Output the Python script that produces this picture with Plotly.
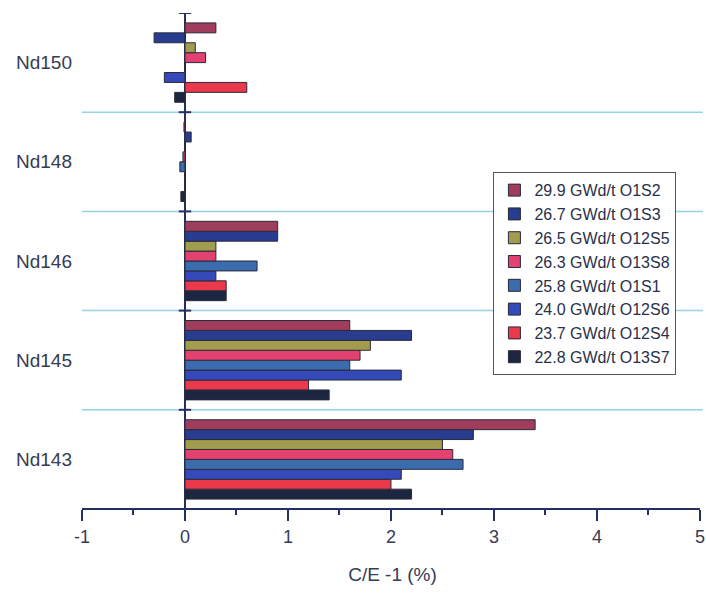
import plotly.graph_objects as go

isotopes = ["Nd143", "Nd145", "Nd146", "Nd148", "Nd150"]

series_names = [
    "29.9 GWd/t O1S2",
    "26.7 GWd/t O1S3",
    "26.5 GWd/t O12S5",
    "26.3 GWd/t O13S8",
    "25.8 GWd/t O1S1",
    "24.0 GWd/t O12S6",
    "23.7 GWd/t O12S4",
    "22.8 GWd/t O13S7",
]

# values per series, in isotope order Nd143, Nd145, Nd146, Nd148, Nd150
o1s2 = [3.4, 1.6, 0.9, -0.01, 0.3]
o1s3 = [2.8, 2.2, 0.9, 0.06, -0.3]
o12s5 = [2.5, 1.8, 0.3, 0.0, 0.1]
o13s8 = [2.6, 1.7, 0.3, -0.02, 0.2]
o1s1 = [2.7, 1.6, 0.7, -0.05, 0.0]
o12s6 = [2.1, 2.1, 0.3, 0.0, -0.2]
o12s4 = [2.0, 1.2, 0.4, 0.0, 0.6]
o13s7 = [2.2, 1.4, 0.4, -0.04, -0.1]

series_values = [o1s2, o1s3, o12s5, o13s8, o1s1, o12s6, o12s4, o13s7]

colors = ["#a03c5c", "#283c90", "#a29c4e", "#e3416f",
          "#3b6cae", "#3549b8", "#e9394b", "#1d2640"]

x_ticks = [-1, 0, 1, 2, 3, 4, 5]

text_color = "#363b55"
axis_color = "#263060"

fig = go.Figure()

# Add in reverse so the first series sits at the top of each group
for name, vals, col in reversed(list(zip(series_names, series_values, colors))):
    fig.add_trace(go.Bar(
        y=isotopes, x=vals, name=name, orientation="h",
        marker=dict(color=col, line=dict(color="#2a2a3a", width=1)),
    ))

# category separators and small ticks on the zero line
n = len(isotopes)
for k in range(n - 1):
    yb = k + 0.5
    fig.add_shape(type="line", xref="x", yref="y", x0=-1, x1=5.03, y0=yb, y1=yb,
                  line=dict(color="rgba(140,205,230,0.9)", width=1.5), layer="below")
for k in range(n):
    yb = k + 0.5
    fig.add_shape(type="line", xref="x", yref="y", x0=-0.06, x1=0.06, y0=yb, y1=yb,
                  line=dict(color=axis_color, width=2))

fig.update_layout(
    width=706, height=598,
    margin=dict(l=82, r=1, t=13, b=89),
    paper_bgcolor="white", plot_bgcolor="white",
    barmode="group", bargap=0.2, bargroupgap=0,
    font=dict(family="Liberation Sans, Arial, sans-serif", color=text_color),
    showlegend=True,
    legend=dict(
        traceorder="reversed",
        x=0.6625, y=0.679, xanchor="left", yanchor="top",
        bgcolor="white", bordercolor="#555566", borderwidth=1,
        font=dict(size=16, color="#2a2f4a"),
        tracegroupgap=0,
    ),
    xaxis=dict(
        range=[-1, 5.03], tickvals=x_ticks, ticktext=[str(v) for v in x_ticks],
        showgrid=False, zeroline=True, zerolinecolor=axis_color, zerolinewidth=2,
        showline=False,
        ticks="outside", ticklen=11, tickwidth=2, tickcolor=axis_color,
        minor=dict(dtick=0.5, ticks="outside", ticklen=5, tickwidth=2, tickcolor=axis_color),
        tickfont=dict(size=18, color=text_color),
        ticklabeloverflow="allow",
        title=dict(text="C/E -1 (%)", font=dict(size=19, color=text_color), standoff=22),
    ),
    yaxis=dict(
        type="category", categoryorder="array", categoryarray=isotopes,
        range=[-0.5, n - 0.5],
        showgrid=False, zeroline=False, showline=False, ticks="",
        tickfont=dict(size=19, color=text_color), ticklabelstandoff=9,
    ),
)

# bottom axis line from -1 to 5
fig.add_shape(type="line", xref="x", yref="paper", x0=x_ticks[0], x1=x_ticks[-1], y0=0, y1=0,
              line=dict(color=axis_color, width=2))

fig.write_html("out.html")
